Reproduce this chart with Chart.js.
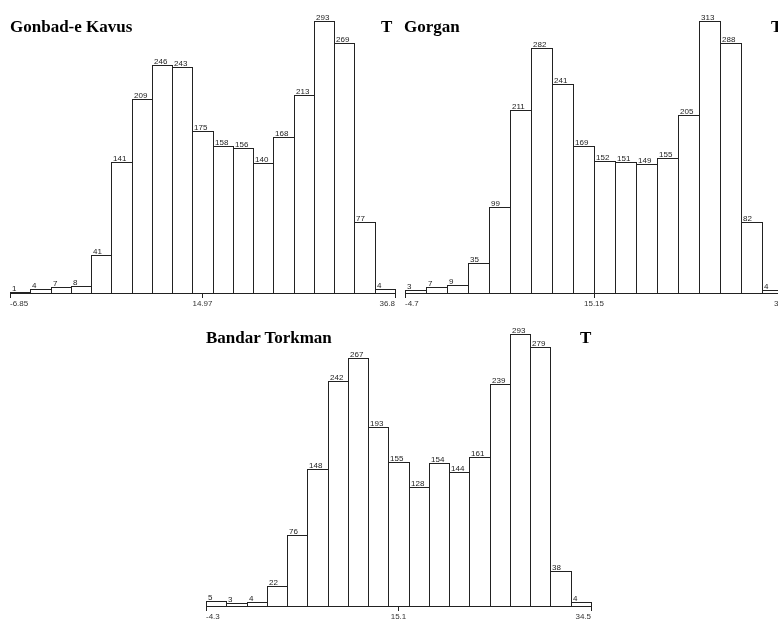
<!DOCTYPE html>
<html><head><meta charset="utf-8">
<script src="https://cdn.jsdelivr.net/npm/chart.js@4.4.0/dist/chart.umd.min.js"></script>
<style>
html,body{margin:0;padding:0;background:#fff;overflow:hidden;width:778px;height:622px;position:relative;}
.box{position:absolute;}
.ttl{position:absolute;font:bold 17px "Liberation Serif","Times New Roman",serif;color:#000;line-height:17px;white-space:nowrap;}
</style></head><body>
<div class="box" style="left:0;top:0;"><canvas id="c1" width="400" height="320"></canvas></div>
<div class="box" style="left:400px;top:0;"><canvas id="c2" width="400" height="320"></canvas></div>
<div class="box" style="left:196px;top:313px;"><canvas id="c3" width="400" height="320"></canvas></div>
<div class="ttl" style="left:10px;top:17.5px;">Gonbad-e Kavus</div>
<div class="ttl" style="left:381px;top:17.5px;">T</div>
<div class="ttl" style="left:404px;top:17.5px;">Gorgan</div>
<div class="ttl" style="left:771px;top:17.5px;">T</div>
<div class="ttl" style="left:206px;top:329px;">Bandar Torkman</div>
<div class="ttl" style="left:580px;top:329px;">T</div>
<script>
// Counts per class (histogram bins)
const gonbadCounts  = [1,4,7,8,41,141,209,246,243,175,158,156,140,168,213,293,269,77,4];
const gorganCounts  = [3,7,9,35,99,211,282,241,169,152,151,149,155,205,313,288,82,4];
const torkmanCounts = [5,3,4,22,76,148,242,267,193,155,128,154,144,161,239,293,279,38,4];

// Axis tick values and labels
const gonbadTickValues  = [-6.85, 14.97, 36.8];
const gonbadTickLabels  = ['-6.85', '14.97', '36.8'];
const gorganTickValues  = [-4.7, 15.15, 35];
const gorganTickLabels  = ['-4.7', '15.15', '35'];
const torkmanTickValues = [-4.3, 15.1, 34.5];
const torkmanTickLabels = ['-4.3', '15.1', '34.5'];

const outlinePlugin = {
  id: 'outline',
  afterDatasetsDraw(chart) {
    const ctx = chart.ctx;
    const meta = chart.getDatasetMeta(0);
    const counts = chart.data.datasets[0].data;
    ctx.save();
    ctx.strokeStyle = '#222';
    ctx.lineWidth = 1;
    ctx.fillStyle = '#222';
    ctx.font = '8px "Liberation Sans", Arial, sans-serif';
    ctx.textBaseline = 'alphabetic';
    ctx.textAlign = 'left';
    meta.data.forEach((bar, i) => {
      const p = bar.getProps(['x', 'y', 'base', 'width'], true);
      const l = Math.round(p.x - p.width / 2) + 0.5;
      const r = Math.round(p.x + p.width / 2) + 0.5;
      const t = Math.round(p.y) + 0.5;
      const b = Math.round(p.base) + 0.5;
      ctx.strokeRect(l, t, r - l, b - t);
      ctx.fillText(String(counts[i]), l + 1.5, t - 1.5);
    });
    ctx.restore();
  }
};

function makeChart(id, counts, tickVals, tickLabels, pad) {
  return new Chart(document.getElementById(id), {
    type: 'bar',
    data: {
      labels: counts.map((_, i) => 'bin ' + (i + 1)),
      datasets: [{
        data: counts,
        backgroundColor: '#ffffff',
        borderWidth: 0,
        barPercentage: 1,
        categoryPercentage: 1
      }]
    },
    options: {
      responsive: false,
      animation: false,
      layout: { padding: pad },
      plugins: { legend: { display: false }, tooltip: { enabled: false } },
      scales: {
        x: { type: 'category', display: false, offset: true },
        y: { display: false, min: 0, max: Math.max(...counts) },
        v: {
          type: 'linear',
          axis: 'x',
          position: 'bottom',
          offset: false,
          min: tickVals[0],
          max: tickVals[tickVals.length - 1],
          afterBuildTicks: (ax) => { ax.ticks = tickVals.map(v => ({ value: v })); },
          afterFit: (ax) => { ax.height = 20; },
          border: { display: true, color: '#222', width: 1 },
          grid: { offset: false, drawOnChartArea: false, drawTicks: true, tickLength: 5, color: '#222' },
          ticks: {
            align: 'inner',
            maxRotation: 0,
            autoSkip: false,
            padding: 1,
            color: '#333',
            font: { family: '"Liberation Sans", Arial, sans-serif', size: 8 },
            callback: (v, i) => tickLabels[i]
          }
        }
      }
    },
    plugins: [outlinePlugin]
  });
}

makeChart('c1', gonbadCounts, gonbadTickValues, gonbadTickLabels, { left: 10, right: 5, top: 21, bottom: 7 });
makeChart('c2', gorganCounts, gorganTickValues, gorganTickLabels, { left: 5, right: 17, top: 21, bottom: 7 });
makeChart('c3', torkmanCounts, torkmanTickValues, torkmanTickLabels, { left: 10, right: 5, top: 21, bottom: 7 });
</script>
</body></html>
